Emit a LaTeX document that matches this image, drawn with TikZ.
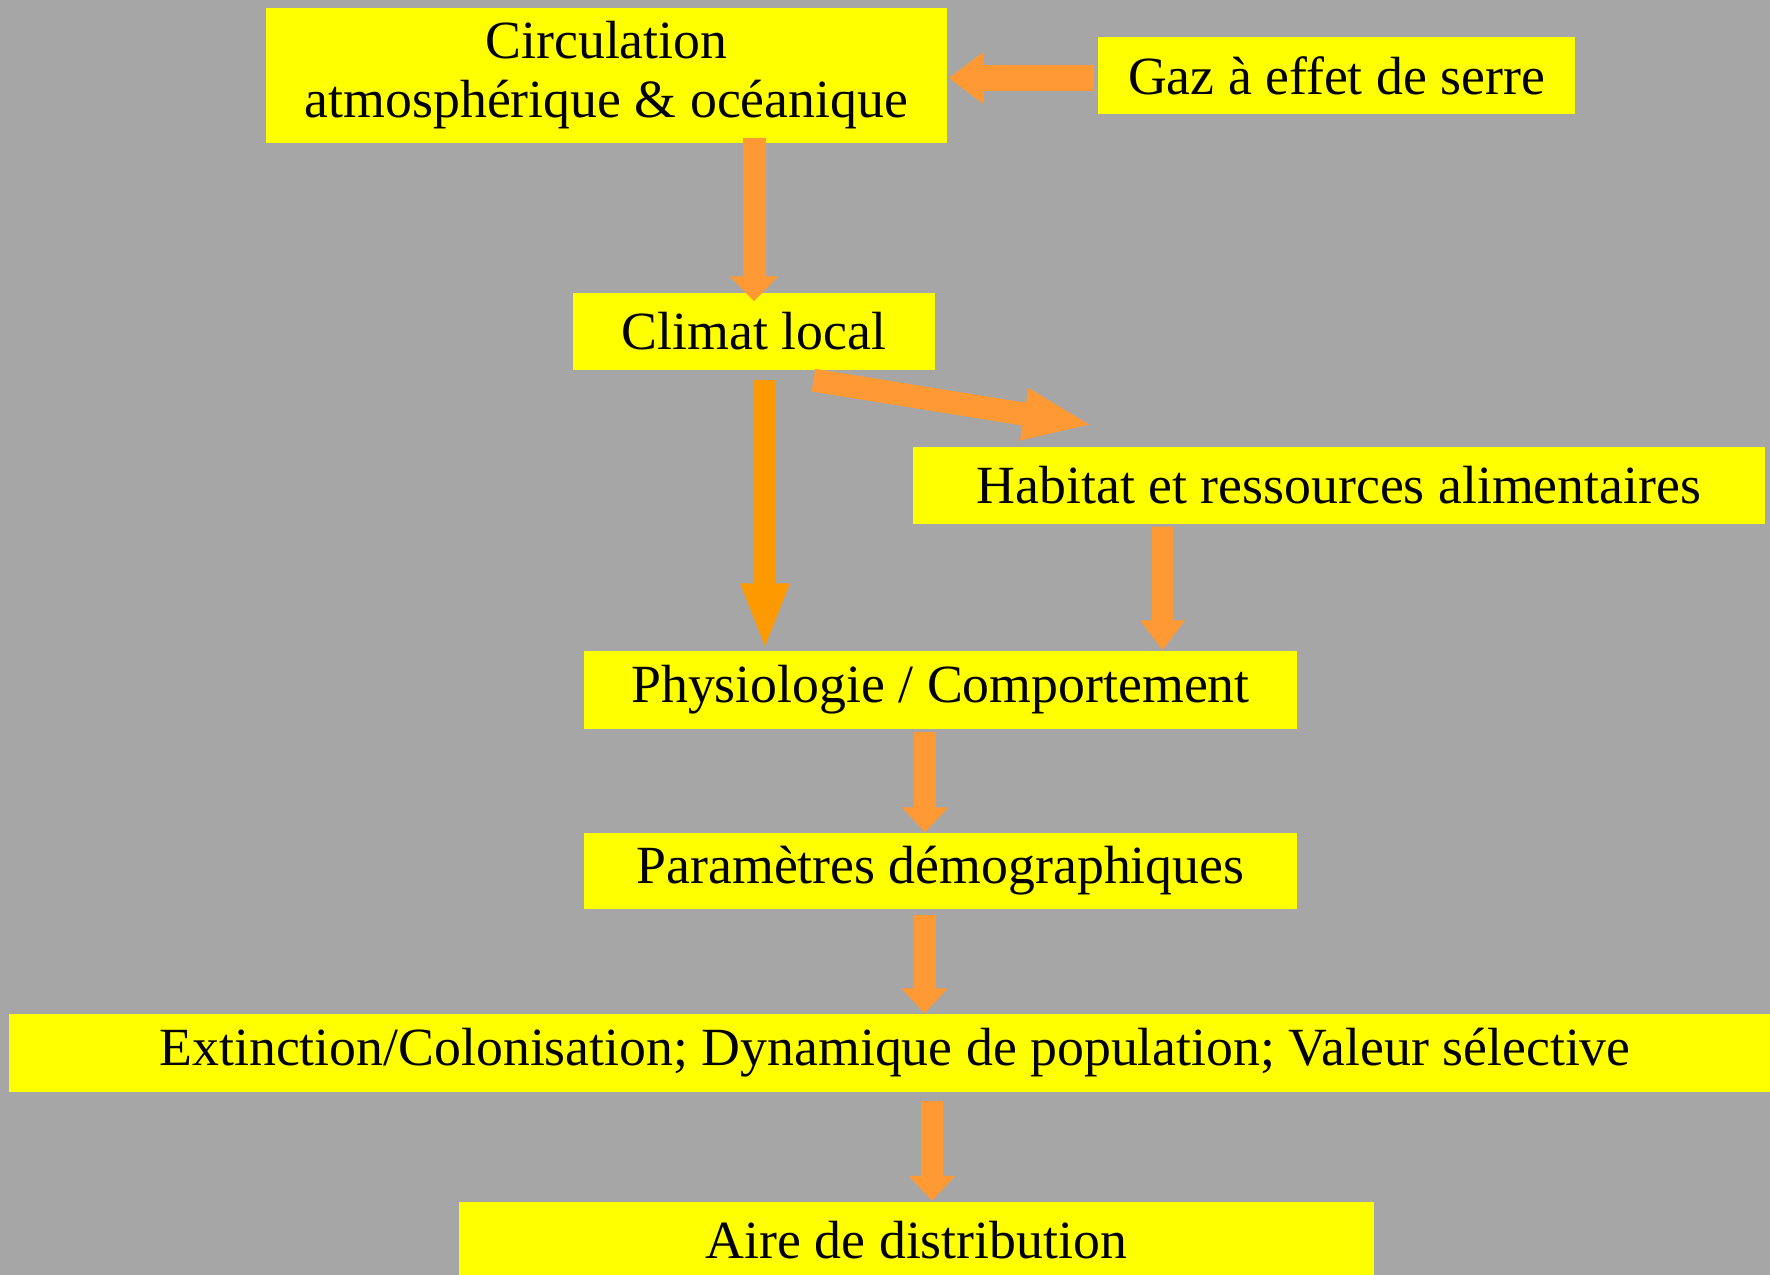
\documentclass[tikz,border=0pt]{standalone}
\usepackage{fontspec}
\setmainfont{Liberation Serif}
\usetikzlibrary{arrows.meta}
\definecolor{fond}{HTML}{A6A6A6}
\definecolor{jaune}{HTML}{FFFF00}
\definecolor{orangeclair}{HTML}{FF9933}
\definecolor{orangefonce}{HTML}{FF9900}
\begin{document}
\begin{tikzpicture}[x=0.1mm, y=-0.1mm, boite/.style={fill=jaune, inner sep=0pt, align=center, font=\fontsize{15.3pt}{16.8pt}\selectfont}, fleche/.style={draw=orangeclair, line width=2.2mm, -{Triangle[length=2.5mm,width=4.5mm]}}]
\fill[fond] (0,0) rectangle (1770,1275);
\useasboundingbox (0,0) rectangle (1770,1275);

\node (circ) at (606.5,75.5) [boite, minimum width=68.1mm, minimum height=13.5mm] {Circulation\\atmosphérique \& océanique};
\node (gaz) at (1336.5,75.5) [boite, minimum width=47.7mm, minimum height=7.7mm] {Gaz à effet de serre};
\node (clim) at (754,331.5) [boite, minimum width=36.2mm, minimum height=7.7mm] {Climat local};
\node (hab) at (1339,485.5) [boite, minimum width=85.2mm, minimum height=7.7mm] {Habitat et ressources alimentaires};
\node (phys) at (940.5,690) [boite, minimum width=71.3mm, minimum height=7.8mm] {Physiologie / Comportement};
\node (param) at (940.5,871) [boite, minimum width=71.3mm, minimum height=7.6mm] {Paramètres démographiques};
\node (ext) at (895,1053) [boite, minimum width=177.2mm, minimum height=7.8mm] {Extinction/Colonisation; Dynamique de population; Valeur sélective};
\node (aire) at (916.5,1240) [boite, minimum width=91.5mm, minimum height=7.7mm] {Aire de distribution};

\draw[fleche, line width=2.6mm, -{Triangle[length=3.5mm,width=5mm]}] ([xshift=-0.3mm,yshift=-0.25mm]gaz.west) -- ([xshift=0.1mm,yshift=-0.25mm]circ.east);
\draw[fleche, line width=2.3mm, -{Triangle[length=2.5mm,width=4.7mm]}] ([yshift=0.6mm]clim.north |- circ.south) -- ([yshift=-0.9mm]clim.north);
\draw[fleche, draw=orangefonce, -{Triangle[length=6.7mm,width=4.4mm]}] ([xshift=1.1mm,yshift=-0.9mm]clim.south) -- ([xshift=1.1mm]phys.north -| clim.south);
\draw[fleche, line width=2.3mm, -{Triangle[length=7mm,width=4.7mm]}] ([shift={(5.95mm,-0.95mm)}]clim.south) -- ([shift={(18.1mm,2.1mm)}]hab.north west);
\draw[fleche, line width=2.1mm, -{Triangle[length=3mm,width=4.3mm]}] ([xshift=-17.65mm,yshift=-0.2mm]hab.south) -- ([xshift=22.2mm]phys.north);
\draw[fleche] ([xshift=-1.55mm,yshift=-0.2mm]phys.south) -- ([xshift=-1.55mm]param.north);
\draw[fleche] ([xshift=-1.6mm,yshift=-0.5mm]param.south) -- ([xshift=-1.6mm]param.south |- ext.north);
\draw[fleche] ([xshift=1.55mm,yshift=-0.8mm]aire.north |- ext.south) -- ([xshift=1.55mm]aire.north);
\end{tikzpicture}
\end{document}
